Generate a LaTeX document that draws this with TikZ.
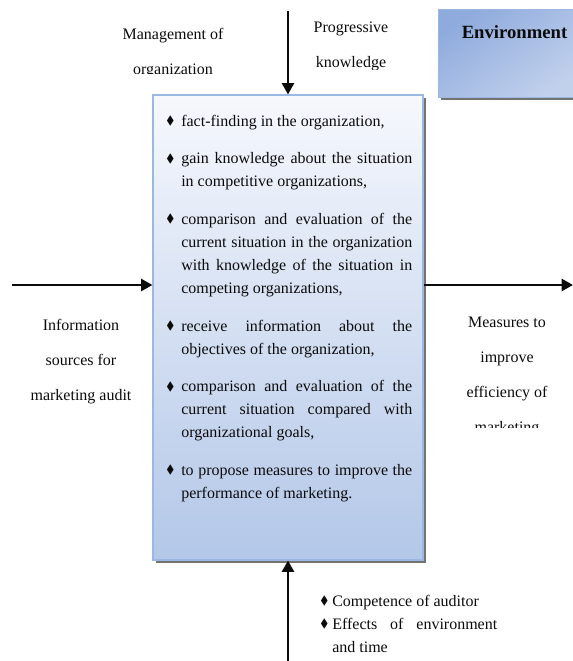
\documentclass[tikz,border=0pt]{standalone}
\usepackage{fontspec}
\setmainfont{Liberation Serif}
\usepackage{amssymb}
\usetikzlibrary{arrows.meta,shadows}
\definecolor{boxtop}{HTML}{F6F8FD}
\definecolor{boxbot}{HTML}{B3C7E8}
\definecolor{boxline}{HTML}{9BB8E2}
\definecolor{envdark}{HTML}{8FABDD}
\definecolor{envlight}{HTML}{E2E9F5}
\definecolor{ink}{HTML}{0B0B0B}
\newcommand{\dia}{\raisebox{0.25ex}{\scalebox{0.75}{$\blacklozenge$}}}
\newcommand{\pitem}[2][11.25pt]{\par\hangindent=#1\hangafter=1\noindent\strut\makebox[#1][l]{\dia}#2\par}

\begin{document}
\begin{tikzpicture}[x=0.75pt,y=-0.75pt,
  flow/.style={line width=1.9pt,ink,-{Triangle[length=8.5pt,width=9pt]}},
  lab/.style={font=\fontsize{12}{26.25}\selectfont,align=center,anchor=base,inner sep=0pt,ink},
  listtxt/.style={font=\fontsize{12}{17.25}\selectfont,align=justify,inner sep=0pt,anchor=north west,ink},
  shadowed/.style={drop shadow={shadow xshift=2.5pt,shadow yshift=-2.5pt,fill=black,opacity=0.55}}]
  \useasboundingbox (0,0) rectangle (573,661);
  % environment box, top right
  \node[shadowed,draw=boxline,line width=0.6pt,minimum width=106.5pt,minimum height=66pt,
    top color=envdark,middle color=envlight,bottom color=envdark!55,shading angle=35] (env) at (509,53) {};
  \node[font=\fontsize{14}{16}\selectfont\bfseries,anchor=base,inner sep=0pt,ink] (envtxt) at (514.5,38) {Environment};
  % main box
  \node[shadowed,draw=boxline,line width=0.8pt,minimum width=202.5pt,minimum height=348.75pt,
    top color=boxtop,bottom color=boxbot] (audit) at (288,327.5) {};
  \node[listtxt,text width=184.5pt] (tasks) at (166,88.3) {\setlength{\parskip}{11pt}%
    \hyphenpenalty=10000\tolerance=9999
    \pitem{fact-finding in the organization,}
    \pitem{gain knowledge about the situation in competitive organizations,}
    \pitem{comparison and evaluation of the current situation in the organization with knowledge of the situation in competing organizations,}
    \pitem{receive information about the objectives of the organization,}
    \pitem{comparison and evaluation of the current situation compared with organizational goals,}
    \pitem{to propose measures to improve the performance of marketing.}};
  % arrows
  \coordinate (topin) at (288,11);
  \coordinate (leftin) at (12,285);
  \coordinate (rightout) at (573,285);
  \coordinate (botin) at (288,661);
  \draw[flow] (topin) -- (audit.north);
  \draw[flow] (leftin) -- (leftin -| audit.west);
  \draw[flow] (audit.east |- rightout) -- (rightout);
  \draw[flow] (botin) -- (audit.south);
  % labels (cut off as in the source)
  \begin{scope}
    \clip (0,0) rectangle (250,73);
    \node[lab] (mgmt) at (173,74) {Management of\\organization};
  \end{scope}
  \begin{scope}
    \clip (290,0) rectangle (430,69);
    \node[lab] (prog) at (351,67) {Progressive\\knowledge};
  \end{scope}
  \node[lab] (sources) at (81,400) {Information\\sources for\\marketing audit};
  \begin{scope}
    \clip (430,290) rectangle (573,427);
    \node[lab] (measures) at (507,432) {Measures to\\improve\\efficiency of\\marketing};
  \end{scope}
  \node[listtxt,text width=132.75pt] (factors) at (320,583) {%
    \hyphenpenalty=10000
    \pitem[9pt]{Competence of auditor}
    \pitem[9pt]{Effects of environment and time}};
\end{tikzpicture}
\end{document}
